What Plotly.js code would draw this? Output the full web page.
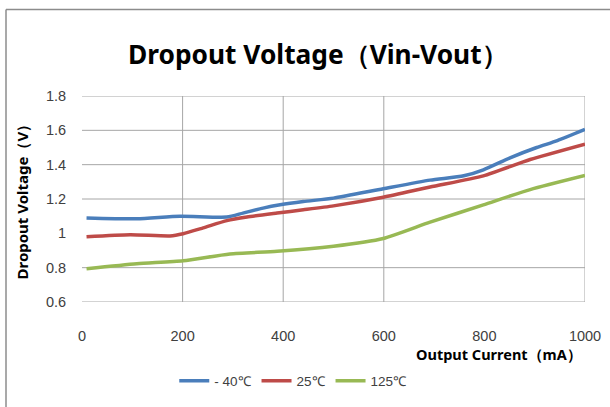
<!DOCTYPE html>
<html>
<head>
<meta charset="utf-8">
<script src="https://cdn.plot.ly/plotly-3.0.1.min.js"></script>
<style>html,body{margin:0;padding:0;background:#fff;}#chart{width:610px;height:407px;}</style>
</head>
<body>
<div id="chart"></div>
<script>
const seriesNames = ["- 40\u2103", "25\u2103", "125\u2103"];
const colors = ["#4a7ebb", "#be4b48", "#98b954"];

const xBlue = [9, 109, 195, 288, 320, 360, 394, 440, 500, 599, 692, 759, 798, 851, 904, 945, 1000];
const yBlue = [1.09, 1.085, 1.10, 1.095, 1.118, 1.147, 1.166, 1.185, 1.205, 1.26, 1.31, 1.335, 1.37, 1.44, 1.50, 1.54, 1.605];

const xRed = [9, 96, 175, 201, 241, 288, 328, 388, 440, 500, 599, 692, 798, 891, 1000];
const yRed = [0.98, 0.992, 0.985, 0.998, 1.032, 1.074, 1.095, 1.118, 1.137, 1.16, 1.21, 1.27, 1.335, 1.43, 1.52];

const xGreen = [9, 109, 201, 294, 388, 500, 599, 692, 798, 891, 1000];
const yGreen = [0.794, 0.823, 0.84, 0.88, 0.895, 0.925, 0.97, 1.065, 1.166, 1.255, 1.337];

const xTicks = [0, 200, 400, 600, 800, 1000];
const yTicks = [0.6, 0.8, 1, 1.2, 1.4, 1.6, 1.8];
const yTickText = ["0.6", "0.8", "1", "1.2", "1.4", "1.6", "1.8"];
// gridlines visible in the reference (the 1.0 and 800 lines are not drawn there)
const xGrid = [200, 400, 600, 1000];
const yGrid = [0.6, 0.8, 1.2, 1.4, 1.6, 1.8];

const titleText = "Dropout Voltage\uff08Vin-Vout\uff09";
const xTitle = "Output Current\uff08mA\uff09";
const yTitle = "Dropout Voltage\uff08V\uff09";

const xs = [xBlue, xRed, xGreen];
const ys = [yBlue, yRed, yGreen];
const traces = seriesNames.map((n, i) => ({
  x: xs[i], y: ys[i], name: n, type: "scatter", mode: "lines",
  line: {color: colors[i], width: 3.5, shape: "spline", smoothing: 0.6}
}));

const W = 610, H = 407, L = 82, R = 585, T = 96, B = 303;
const px = v => (v - L) / (R - L);
const py = v => (B - v) / (B - T);

const gridColor = "#a6a6a6";
const shapes = [];
xGrid.forEach(v => shapes.push({type: "line", layer: "below", xref: "x", yref: "paper", x0: v, x1: v, y0: 0, y1: 1,
  line: {color: gridColor, width: 1}}));
yGrid.forEach(v => shapes.push({type: "line", layer: "below", xref: "paper", yref: "y", x0: 0, x1: 1, y0: v, y1: v,
  line: {color: gridColor, width: 1}}));
shapes.push({type: "line", xref: "paper", yref: "paper", x0: px(6), x1: px(6), y0: py(9), y1: py(410), line: {color: "#8c8c8c", width: 1.5}});
shapes.push({type: "line", xref: "paper", yref: "paper", x0: px(6), x1: px(612), y0: py(9), y1: py(9), line: {color: "#8c8c8c", width: 1.5}});

const layout = {
  width: W, height: H,
  margin: {l: L, r: W - R, t: T, b: H - B, pad: 0},
  paper_bgcolor: "#fff", plot_bgcolor: "#fff",
  font: {family: "Liberation Sans, Arial, sans-serif", color: "#404040", size: 14},
  title: {text: "<b>" + titleText + "</b>", x: 0.521, xanchor: "center", y: 0.865, yanchor: "middle",
          font: {family: "Noto Sans, sans-serif", size: 26.3, color: "#000"}},
  xaxis: {range: [0, 1000], tickvals: xTicks, showgrid: false,
          zeroline: false, showline: false, ticks: "outside", ticklen: 21, tickcolor: "rgba(0,0,0,0)",
          tickfont: {size: 14.5, color: "#404040"}, fixedrange: true},
  yaxis: {range: [0.6, 1.8], tickvals: yTicks, ticktext: yTickText, showgrid: false,
          zeroline: false, showline: false, ticks: "outside", ticklen: 12, tickcolor: "rgba(0,0,0,0)",
          tickfont: {size: 14.5, color: "#404040"}, fixedrange: true},
  showlegend: true,
  legend: {orientation: "h", x: 0.42, xanchor: "center", y: py(381), yanchor: "middle",
           font: {size: 13.5, color: "#404040"}, itemwidth: 30, tracegroupgap: 0, bgcolor: "rgba(0,0,0,0)"},
  annotations: [
    {text: "<b>" + xTitle + "</b>", xref: "paper", yref: "paper", x: px(584), y: py(355),
     xanchor: "right", yanchor: "middle", showarrow: false,
     font: {family: "Noto Sans, sans-serif", size: 14.5, color: "#000"}},
    {text: "<b>" + yTitle + "</b>", xref: "paper", yref: "paper", x: px(22), y: py(199),
     xanchor: "center", yanchor: "middle", textangle: -90, showarrow: false,
     font: {family: "Noto Sans, sans-serif", size: 15, color: "#000"}}
  ],
  shapes: shapes
};

Plotly.newPlot("chart", traces, layout, {displayModeBar: false, staticPlot: true});
</script>
</body>
</html>
